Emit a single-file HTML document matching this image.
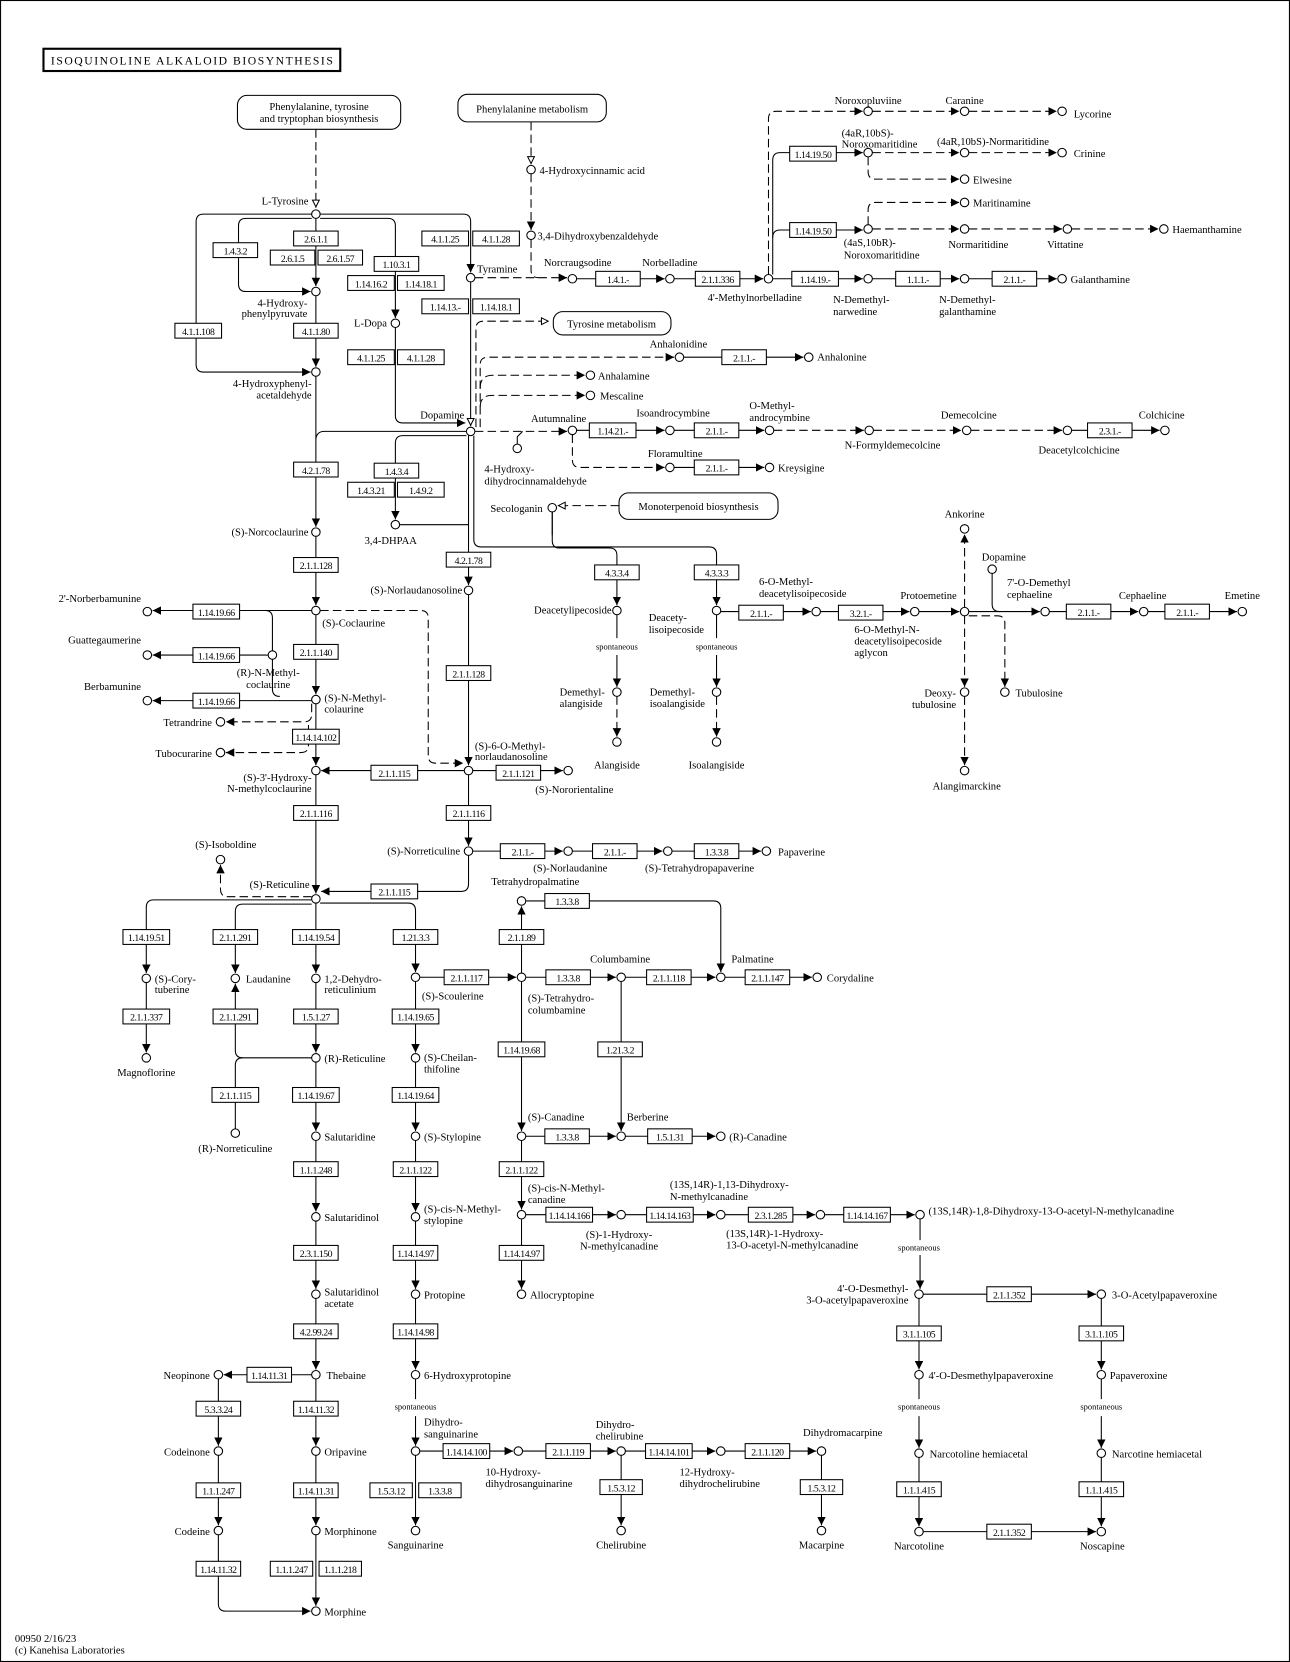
<!DOCTYPE html>
<html><head><meta charset="utf-8"><style>
html,body{margin:0;padding:0;background:#fff}
svg{display:block}
text{font-family:"Liberation Serif",serif;font-size:10px;fill:#000}
.e rect{fill:#fff;stroke:#000;stroke-width:1}
.e text{text-anchor:middle;font-size:9.2px;letter-spacing:-0.45px}
circle{fill:#fff;stroke:#000;stroke-width:1}
path{fill:none;stroke:#000;stroke-width:1}
.d{stroke-dasharray:8,4}
.m{text-anchor:middle}
.r{text-anchor:end}
.s{font-size:8px;text-anchor:middle}
</style></head><body>
<svg width="1290" height="1662" viewBox="0 0 1217 1568" xmlns="http://www.w3.org/2000/svg">
<defs>
<marker id="a" viewBox="0 0 10 10" refX="10" refY="5" markerWidth="8" markerHeight="8" orient="auto" markerUnits="userSpaceOnUse"><path d="M0,0 L10,5 L0,10 z" style="fill:#000;stroke:none"/></marker>
<marker id="o" viewBox="0 0 10 10" refX="10" refY="5" markerWidth="8" markerHeight="8" orient="auto" markerUnits="userSpaceOnUse"><path d="M1,1 L9,5 L1,9 z" style="fill:#fff;stroke:#000;stroke-width:1.2"/></marker>
</defs>
<rect x="0.5" y="0.5" width="1216" height="1567" fill="#fff" stroke="#000"/>
<rect x="41" y="46" width="280" height="21" fill="#fff" stroke="#000" stroke-width="2"/>
<text x="48" y="61" style="font-size:11px" textLength="266" lengthAdjust="spacing">ISOQUINOLINE  ALKALOID  BIOSYNTHESIS</text>

<!-- map boxes -->
<rect x="224" y="90" width="154" height="32" rx="9" fill="#fff" stroke="#000"/>
<text x="301" y="104" class="m">Phenylalanine, tyrosine</text><text x="301" y="115" class="m">and tryptophan biosynthesis</text>
<rect x="432" y="89" width="140" height="26" rx="9" fill="#fff" stroke="#000"/>
<text x="502" y="106" class="m">Phenylalanine metabolism</text>
<rect x="522" y="294" width="111" height="22" rx="9" fill="#fff" stroke="#000"/>
<text x="577" y="309" class="m">Tyrosine metabolism</text>
<rect x="584" y="465" width="150" height="25" rx="9" fill="#fff" stroke="#000"/>
<text x="659" y="481" class="m">Monoterpenoid biosynthesis</text>

<!-- edges -->
<g>
<path class="d" d="M298,122 V196" marker-end="url(#o)"/>
<path class="d" d="M501,115 V155" marker-end="url(#o)"/>
<path class="d" d="M501,164 V217" marker-end="url(#a)"/>
<path d="M298,206 V270" marker-end="url(#a)"/>
<path d="M294,206 H232 q-7,0 -7,7 V268 q0,7 7,7 H293" marker-end="url(#a)"/>
<path d="M302,206 H366 q7,0 7,7 V300" marker-end="url(#a)"/>
<path d="M294,202 H192 q-7,0 -7,7 V344 q0,7 7,7 H293" marker-end="url(#a)"/>
<path d="M302,202 H437 q7,0 7,7 V257" marker-end="url(#a)"/>
<path d="M298,279 V346" marker-end="url(#a)"/>
<path d="M298,355 V497" marker-end="url(#a)"/>
<path d="M440,407 H306 q-7,0 -8,7"/>
<path d="M373,309 V392 q0,7 7,7 H439" marker-end="url(#a)"/>
<path d="M444,266 V402" marker-end="url(#o)"/>
<path d="M442,411 V552" marker-end="url(#a)"/>
<path d="M447,411 V509 q0,7 7,7 H669 q7,0 7,7 V571" marker-end="url(#a)"/>
<path d="M521,483 V505"/>
<path d="M440,411 H380 q-7,0 -7,7 V490" marker-end="url(#a)"/>
<path d="M377,495 H442"/>
<path class="d" d="M449,403 V310 q0,-7 7,-7 H518" marker-end="url(#o)"/>
<path class="d" d="M453,403 V344 q0,-7 7,-7 H636" marker-end="url(#a)"/>
<path class="d" d="M453,366 q0,-12 12,-12 H552" marker-end="url(#a)"/>
<path class="d" d="M453,384 q0,-11 11,-11 H552" marker-end="url(#a)"/>
<path class="d" d="M448,407 H535" marker-end="url(#a)"/>
<path d="M488,419 V412 l5,-5"/>
<path d="M544,406 H627" marker-end="url(#a)"/>
<path d="M636,406 H721" marker-end="url(#a)"/>
<path class="d" d="M730,406 H815" marker-end="url(#a)"/>
<path class="d" d="M824,406 H907" marker-end="url(#a)"/>
<path class="d" d="M916,406 H1002" marker-end="url(#a)"/>
<path d="M1011,406 H1094" marker-end="url(#a)"/>
<path class="d" d="M540,410 V434 q0,7 7,7 H627" marker-end="url(#a)"/>
<path d="M636,441 H721" marker-end="url(#a)"/>
<path d="M645,337 H758" marker-end="url(#a)"/>
<path class="d" d="M448,262 H535" marker-end="url(#a)"/>
<path class="d" d="M501,226 V255 q0,7 7,7"/>
<path d="M544,263 H627" marker-end="url(#a)"/>
<path d="M636,263 H720" marker-end="url(#a)"/>
<path d="M729,263 H814" marker-end="url(#a)"/>
<path d="M823,263 H905" marker-end="url(#a)"/>
<path d="M914,263 H997" marker-end="url(#a)"/>
<path class="d" d="M725,259 V112 q0,-7 7,-7 H814" marker-end="url(#a)"/>
<path class="d" d="M823,105 H905" marker-end="url(#a)"/>
<path class="d" d="M914,105 H997" marker-end="url(#a)"/>
<path d="M729,259 V151 q0,-7 7,-7 H814" marker-end="url(#a)"/>
<path d="M729,224 q0,-7 7,-7 H814" marker-end="url(#a)"/>
<path class="d" d="M823,144 H905" marker-end="url(#a)"/>
<path class="d" d="M914,144 H997" marker-end="url(#a)"/>
<path class="d" d="M819,148 V162 q0,7 7,7 H905" marker-end="url(#a)"/>
<path class="d" d="M823,216 H905" marker-end="url(#a)"/>
<path class="d" d="M914,216 H1002" marker-end="url(#a)"/>
<path class="d" d="M1011,216 H1093" marker-end="url(#a)"/>
<path class="d" d="M819,212 V198 q0,-7 7,-7 H905" marker-end="url(#a)"/>
<path class="d" d="M584,477 H526" marker-end="url(#o)"/>
<path d="M521,483 V510 q0,7 7,7 H575 q7,0 7,7 V571" marker-end="url(#a)"/>
<path d="M582,580 V602 M582,618 V648" marker-end="url(#a)"/>
<path class="d" d="M582,657 V695" marker-end="url(#a)"/>
<path d="M676,580 V602 M676,618 V648" marker-end="url(#a)"/>
<path class="d" d="M676,657 V695" marker-end="url(#a)"/>
<path d="M680,577 H765" marker-end="url(#a)"/>
<path d="M774,577 H858" marker-end="url(#a)"/>
<path d="M867,577 H905" marker-end="url(#a)"/>
<path d="M914,577 H981" marker-end="url(#a)"/>
<path d="M936,541 V570 q0,7 7,7"/>
<path d="M990,577 H1074" marker-end="url(#a)"/>
<path d="M1083,577 H1167" marker-end="url(#a)"/>
<path class="d" d="M910,573 V504" marker-end="url(#a)"/>
<path class="d" d="M910,581 V648" marker-end="url(#a)"/>
<path class="d" d="M910,657 V722" marker-end="url(#a)"/>
<path class="d" d="M914,581 H941 q7,0 7,7 V648" marker-end="url(#a)"/>
<path d="M298,506 V571" marker-end="url(#a)"/>
<path class="d" d="M302,576 H397 q7,0 7,7 V713 q0,7 7,7 H437" marker-end="url(#a)"/>
<path d="M294,576 H144" marker-end="url(#a)"/>
<path d="M257,614 V583 q0,-7 -7,-7"/>
<path d="M253,618 H144" marker-end="url(#a)"/>
<path d="M298,580 V655" marker-end="url(#a)"/>
<path d="M294,661 H144" marker-end="url(#a)"/>
<path d="M257,622 V650 q0,7 7,7"/>
<path class="d" d="M294,664 V674 q0,7 -7,7 H213" marker-end="url(#a)"/>
<path class="d" d="M291,684 V703 q0,7 -7,7 H213" marker-end="url(#a)"/>
<path d="M298,664 V722" marker-end="url(#a)"/>
<path d="M438,727 H303" marker-end="url(#a)"/>
<path d="M442,561 V722" marker-end="url(#a)"/>
<path d="M446,727 H531" marker-end="url(#a)"/>
<path d="M442,731 V798" marker-end="url(#a)"/>
<path d="M446,803 H531" marker-end="url(#a)"/>
<path d="M540,803 H625" marker-end="url(#a)"/>
<path d="M634,803 H718" marker-end="url(#a)"/>
<path d="M442,807 V834 q0,7 -7,7 H303" marker-end="url(#a)"/>
<path d="M298,731 V843" marker-end="url(#a)"/>
<path class="d" d="M294,846 H215 q-7,0 -7,-7 V816" marker-end="url(#a)"/>
<path d="M294,849 H145 q-7,0 -7,7 V918" marker-end="url(#a)"/>
<path d="M294,853 H229 q-7,0 -7,7 V918" marker-end="url(#a)"/>
<path d="M294,998 H229 q-7,0 -7,-7 V928" marker-end="url(#a)"/>
<path d="M298,852 V918" marker-end="url(#a)"/>
<path d="M302,852 H385 q7,0 7,7 V917" marker-end="url(#a)"/>
<path d="M298,927 V993" marker-end="url(#a)"/>
<path d="M138,927 V993" marker-end="url(#a)"/>
<path d="M222,1065 V1005 q0,-7 7,-7"/>
<path d="M298,1002 V1067" marker-end="url(#a)"/>
<path d="M298,1076 V1143" marker-end="url(#a)"/>
<path d="M298,1152 V1216" marker-end="url(#a)"/>
<path d="M298,1225 V1292" marker-end="url(#a)"/>
<path d="M294,1297 H211" marker-end="url(#a)"/>
<path d="M206,1301 V1364" marker-end="url(#a)"/>
<path d="M206,1373 V1439" marker-end="url(#a)"/>
<path d="M206,1448 V1513 q0,7 7,7 H293" marker-end="url(#a)"/>
<path d="M298,1301 V1364" marker-end="url(#a)"/>
<path d="M298,1373 V1439" marker-end="url(#a)"/>
<path d="M298,1448 V1515" marker-end="url(#a)"/>
<path d="M392,926 V993" marker-end="url(#a)"/>
<path d="M392,1002 V1067" marker-end="url(#a)"/>
<path d="M392,1076 V1143" marker-end="url(#a)"/>
<path d="M392,1152 V1216" marker-end="url(#a)"/>
<path d="M392,1225 V1292" marker-end="url(#a)"/>
<path d="M392,1301 V1320 M392,1336 V1364" marker-end="url(#a)"/>
<path d="M392,1373 V1439" marker-end="url(#a)"/>
<path d="M396,922 H487" marker-end="url(#a)"/>
<path d="M492,926 V1067" marker-end="url(#a)"/>
<path d="M496,922 H581" marker-end="url(#a)"/>
<path d="M590,922 H675" marker-end="url(#a)"/>
<path d="M684,922 H766" marker-end="url(#a)"/>
<path d="M492,918 V855" marker-end="url(#a)"/>
<path d="M496,850 H673 q7,0 7,7 V917" marker-end="url(#a)"/>
<path d="M586,926 V1067" marker-end="url(#a)"/>
<path d="M496,1072 H581" marker-end="url(#a)"/>
<path d="M590,1072 H675" marker-end="url(#a)"/>
<path d="M492,1076 V1141" marker-end="url(#a)"/>
<path d="M492,1150 V1216" marker-end="url(#a)"/>
<path d="M496,1146 H581" marker-end="url(#a)"/>
<path d="M590,1146 H675" marker-end="url(#a)"/>
<path d="M684,1146 H769" marker-end="url(#a)"/>
<path d="M778,1146 H863" marker-end="url(#a)"/>
<path d="M868,1150 V1170 M868,1184 V1216" marker-end="url(#a)"/>
<path d="M871,1221 H1034" marker-end="url(#a)"/>
<path d="M867,1225 V1292" marker-end="url(#a)"/>
<path d="M867,1301 V1320 M867,1336 V1366" marker-end="url(#a)"/>
<path d="M867,1375 V1440" marker-end="url(#a)"/>
<path d="M1039,1225 V1292" marker-end="url(#a)"/>
<path d="M1039,1301 V1320 M1039,1336 V1366" marker-end="url(#a)"/>
<path d="M1039,1375 V1440" marker-end="url(#a)"/>
<path d="M871,1445 H1034" marker-end="url(#a)"/>
<path d="M396,1369 H484" marker-end="url(#a)"/>
<path d="M493,1369 H581" marker-end="url(#a)"/>
<path d="M590,1369 H675" marker-end="url(#a)"/>
<path d="M684,1369 H770" marker-end="url(#a)"/>
<path d="M586,1373 V1439" marker-end="url(#a)"/>
<path d="M775,1373 V1439" marker-end="url(#a)"/>
</g>

<!-- enzymes -->
<g class="e">
<g transform="translate(298,225)"><rect x="-21" y="-7" width="42" height="14"/><text y="4">2.6.1.1</text></g>
<g transform="translate(276,243)"><rect x="-21" y="-7" width="42" height="14"/><text y="4">2.6.1.5</text></g>
<g transform="translate(321,243)"><rect x="-21" y="-7" width="42" height="14"/><text y="4">2.6.1.57</text></g>
<g transform="translate(222,236)"><rect x="-21" y="-7" width="42" height="14"/><text y="4">1.4.3.2</text></g>
<g transform="translate(374,249)"><rect x="-21" y="-7" width="42" height="14"/><text y="4">1.10.3.1</text></g>
<g transform="translate(350,267)"><rect x="-22" y="-7" width="44" height="14"/><text y="4">1.14.16.2</text></g>
<g transform="translate(397,267)"><rect x="-22" y="-7" width="44" height="14"/><text y="4">1.14.18.1</text></g>
<g transform="translate(420,225)"><rect x="-22" y="-7" width="44" height="14"/><text y="4">4.1.1.25</text></g>
<g transform="translate(468,225)"><rect x="-22" y="-7" width="44" height="14"/><text y="4">4.1.1.28</text></g>
<g transform="translate(420,289)"><rect x="-22" y="-7" width="44" height="14"/><text y="4">1.14.13.-</text></g>
<g transform="translate(468,289)"><rect x="-22" y="-7" width="44" height="14"/><text y="4">1.14.18.1</text></g>
<g transform="translate(187,312)"><rect x="-22" y="-7" width="44" height="14"/><text y="4">4.1.1.108</text></g>
<g transform="translate(298,312)"><rect x="-21" y="-7" width="42" height="14"/><text y="4">4.1.1.80</text></g>
<g transform="translate(350,337)"><rect x="-22" y="-7" width="44" height="14"/><text y="4">4.1.1.25</text></g>
<g transform="translate(397,337)"><rect x="-22" y="-7" width="44" height="14"/><text y="4">4.1.1.28</text></g>
<g transform="translate(298,443)"><rect x="-21" y="-7" width="42" height="14"/><text y="4">4.2.1.78</text></g>
<g transform="translate(374,444)"><rect x="-21" y="-7" width="42" height="14"/><text y="4">1.4.3.4</text></g>
<g transform="translate(350,462)"><rect x="-22" y="-7" width="44" height="14"/><text y="4">1.4.3.21</text></g>
<g transform="translate(397,462)"><rect x="-22" y="-7" width="44" height="14"/><text y="4">1.4.9.2</text></g>
<g transform="translate(442,528)"><rect x="-21" y="-7" width="42" height="14"/><text y="4">4.2.1.78</text></g>
<g transform="translate(298,533)"><rect x="-21" y="-7" width="42" height="14"/><text y="4">2.1.1.128</text></g>
<g transform="translate(204,577)"><rect x="-22" y="-7" width="44" height="14"/><text y="4">1.14.19.66</text></g>
<g transform="translate(298,615)"><rect x="-21" y="-7" width="42" height="14"/><text y="4">2.1.1.140</text></g>
<g transform="translate(204,618)"><rect x="-22" y="-7" width="44" height="14"/><text y="4">1.14.19.66</text></g>
<g transform="translate(204,661)"><rect x="-22" y="-7" width="44" height="14"/><text y="4">1.14.19.66</text></g>
<g transform="translate(298,695)"><rect x="-22" y="-7" width="44" height="14"/><text y="4">1.14.14.102</text></g>
<g transform="translate(442,635)"><rect x="-21" y="-7" width="42" height="14"/><text y="4">2.1.1.128</text></g>
<g transform="translate(372,729)"><rect x="-22" y="-7" width="44" height="14"/><text y="4">2.1.1.115</text></g>
<g transform="translate(489,729)"><rect x="-21" y="-7" width="42" height="14"/><text y="4">2.1.1.121</text></g>
<g transform="translate(298,767)"><rect x="-21" y="-7" width="42" height="14"/><text y="4">2.1.1.116</text></g>
<g transform="translate(442,767)"><rect x="-21" y="-7" width="42" height="14"/><text y="4">2.1.1.116</text></g>
<g transform="translate(493,803)"><rect x="-21" y="-7" width="42" height="14"/><text y="4">2.1.1.-</text></g>
<g transform="translate(580,803)"><rect x="-21" y="-7" width="42" height="14"/><text y="4">2.1.1.-</text></g>
<g transform="translate(676,803)"><rect x="-21" y="-7" width="42" height="14"/><text y="4">1.3.3.8</text></g>
<g transform="translate(372,841)"><rect x="-22" y="-7" width="44" height="14"/><text y="4">2.1.1.115</text></g>
<g transform="translate(535,850)"><rect x="-21" y="-7" width="42" height="14"/><text y="4">1.3.3.8</text></g>
<g transform="translate(138,884)"><rect x="-22" y="-7" width="44" height="14"/><text y="4">1.14.19.51</text></g>
<g transform="translate(222,884)"><rect x="-21" y="-7" width="42" height="14"/><text y="4">2.1.1.291</text></g>
<g transform="translate(298,884)"><rect x="-22" y="-7" width="44" height="14"/><text y="4">1.14.19.54</text></g>
<g transform="translate(392,884)"><rect x="-21" y="-7" width="42" height="14"/><text y="4">1.21.3.3</text></g>
<g transform="translate(492,884)"><rect x="-21" y="-7" width="42" height="14"/><text y="4">2.1.1.89</text></g>
<g transform="translate(440,922)"><rect x="-21" y="-7" width="42" height="14"/><text y="4">2.1.1.117</text></g>
<g transform="translate(536,922)"><rect x="-21" y="-7" width="42" height="14"/><text y="4">1.3.3.8</text></g>
<g transform="translate(631,922)"><rect x="-21" y="-7" width="42" height="14"/><text y="4">2.1.1.118</text></g>
<g transform="translate(724,922)"><rect x="-21" y="-7" width="42" height="14"/><text y="4">2.1.1.147</text></g>
<g transform="translate(138,959)"><rect x="-22" y="-7" width="44" height="14"/><text y="4">2.1.1.337</text></g>
<g transform="translate(222,959)"><rect x="-21" y="-7" width="42" height="14"/><text y="4">2.1.1.291</text></g>
<g transform="translate(298,959)"><rect x="-21" y="-7" width="42" height="14"/><text y="4">1.5.1.27</text></g>
<g transform="translate(392,959)"><rect x="-22" y="-7" width="44" height="14"/><text y="4">1.14.19.65</text></g>
<g transform="translate(492,990)"><rect x="-22" y="-7" width="44" height="14"/><text y="4">1.14.19.68</text></g>
<g transform="translate(585,990)"><rect x="-21" y="-7" width="42" height="14"/><text y="4">1.21.3.2</text></g>
<g transform="translate(222,1033)"><rect x="-22" y="-7" width="44" height="14"/><text y="4">2.1.1.115</text></g>
<g transform="translate(298,1033)"><rect x="-22" y="-7" width="44" height="14"/><text y="4">1.14.19.67</text></g>
<g transform="translate(392,1033)"><rect x="-22" y="-7" width="44" height="14"/><text y="4">1.14.19.64</text></g>
<g transform="translate(535,1072)"><rect x="-21" y="-7" width="42" height="14"/><text y="4">1.3.3.8</text></g>
<g transform="translate(632,1072)"><rect x="-21" y="-7" width="42" height="14"/><text y="4">1.5.1.31</text></g>
<g transform="translate(298,1103)"><rect x="-21" y="-7" width="42" height="14"/><text y="4">1.1.1.248</text></g>
<g transform="translate(392,1103)"><rect x="-21" y="-7" width="42" height="14"/><text y="4">2.1.1.122</text></g>
<g transform="translate(492,1103)"><rect x="-21" y="-7" width="42" height="14"/><text y="4">2.1.1.122</text></g>
<g transform="translate(537,1146)"><rect x="-22" y="-7" width="44" height="14"/><text y="4">1.14.14.166</text></g>
<g transform="translate(632,1146)"><rect x="-22" y="-7" width="44" height="14"/><text y="4">1.14.14.163</text></g>
<g transform="translate(727,1146)"><rect x="-21" y="-7" width="42" height="14"/><text y="4">2.3.1.285</text></g>
<g transform="translate(818,1146)"><rect x="-22" y="-7" width="44" height="14"/><text y="4">1.14.14.167</text></g>
<g transform="translate(298,1182)"><rect x="-21" y="-7" width="42" height="14"/><text y="4">2.3.1.150</text></g>
<g transform="translate(392,1182)"><rect x="-21" y="-7" width="42" height="14"/><text y="4">1.14.14.97</text></g>
<g transform="translate(492,1182)"><rect x="-21" y="-7" width="42" height="14"/><text y="4">1.14.14.97</text></g>
<g transform="translate(952,1221)"><rect x="-21" y="-7" width="42" height="14"/><text y="4">2.1.1.352</text></g>
<g transform="translate(298,1256)"><rect x="-21" y="-7" width="42" height="14"/><text y="4">4.2.99.24</text></g>
<g transform="translate(392,1256)"><rect x="-21" y="-7" width="42" height="14"/><text y="4">1.14.14.98</text></g>
<g transform="translate(867,1258)"><rect x="-21" y="-7" width="42" height="14"/><text y="4">3.1.1.105</text></g>
<g transform="translate(1039,1258)"><rect x="-21" y="-7" width="42" height="14"/><text y="4">3.1.1.105</text></g>
<g transform="translate(254,1297)"><rect x="-21" y="-7" width="42" height="14"/><text y="4">1.14.11.31</text></g>
<g transform="translate(206,1329)"><rect x="-21" y="-7" width="42" height="14"/><text y="4">5.3.3.24</text></g>
<g transform="translate(298,1329)"><rect x="-21" y="-7" width="42" height="14"/><text y="4">1.14.11.32</text></g>
<g transform="translate(440,1369)"><rect x="-22" y="-7" width="44" height="14"/><text y="4">1.14.14.100</text></g>
<g transform="translate(536,1369)"><rect x="-21" y="-7" width="42" height="14"/><text y="4">2.1.1.119</text></g>
<g transform="translate(631,1369)"><rect x="-22" y="-7" width="44" height="14"/><text y="4">1.14.14.101</text></g>
<g transform="translate(724,1369)"><rect x="-21" y="-7" width="42" height="14"/><text y="4">2.1.1.120</text></g>
<g transform="translate(206,1406)"><rect x="-21" y="-7" width="42" height="14"/><text y="4">1.1.1.247</text></g>
<g transform="translate(298,1406)"><rect x="-21" y="-7" width="42" height="14"/><text y="4">1.14.11.31</text></g>
<g transform="translate(369,1406)"><rect x="-20" y="-7" width="40" height="14"/><text y="4">1.5.3.12</text></g>
<g transform="translate(415,1406)"><rect x="-20" y="-7" width="40" height="14"/><text y="4">1.3.3.8</text></g>
<g transform="translate(586,1403)"><rect x="-20" y="-7" width="40" height="14"/><text y="4">1.5.3.12</text></g>
<g transform="translate(775,1403)"><rect x="-20" y="-7" width="40" height="14"/><text y="4">1.5.3.12</text></g>
<g transform="translate(867,1405)"><rect x="-21" y="-7" width="42" height="14"/><text y="4">1.1.1.415</text></g>
<g transform="translate(1039,1405)"><rect x="-21" y="-7" width="42" height="14"/><text y="4">1.1.1.415</text></g>
<g transform="translate(952,1445)"><rect x="-21" y="-7" width="42" height="14"/><text y="4">2.1.1.352</text></g>
<g transform="translate(206,1480)"><rect x="-21" y="-7" width="42" height="14"/><text y="4">1.14.11.32</text></g>
<g transform="translate(275,1480)"><rect x="-20" y="-7" width="40" height="14"/><text y="4">1.1.1.247</text></g>
<g transform="translate(321,1480)"><rect x="-20" y="-7" width="40" height="14"/><text y="4">1.1.1.218</text></g>
<g transform="translate(583,263)"><rect x="-21" y="-7" width="42" height="14"/><text y="4">1.4.1.-</text></g>
<g transform="translate(677,263)"><rect x="-21" y="-7" width="42" height="14"/><text y="4">2.1.1.336</text></g>
<g transform="translate(769,263)"><rect x="-22" y="-7" width="44" height="14"/><text y="4">1.14.19.-</text></g>
<g transform="translate(866,263)"><rect x="-21" y="-7" width="42" height="14"/><text y="4">1.1.1.-</text></g>
<g transform="translate(957,263)"><rect x="-21" y="-7" width="42" height="14"/><text y="4">2.1.1.-</text></g>
<g transform="translate(767,145)"><rect x="-22" y="-7" width="44" height="14"/><text y="4">1.14.19.50</text></g>
<g transform="translate(767,217)"><rect x="-22" y="-7" width="44" height="14"/><text y="4">1.14.19.50</text></g>
<g transform="translate(702,337)"><rect x="-21" y="-7" width="42" height="14"/><text y="4">2.1.1.-</text></g>
<g transform="translate(578,406)"><rect x="-22" y="-7" width="44" height="14"/><text y="4">1.14.21.-</text></g>
<g transform="translate(676,406)"><rect x="-21" y="-7" width="42" height="14"/><text y="4">2.1.1.-</text></g>
<g transform="translate(1047,406)"><rect x="-21" y="-7" width="42" height="14"/><text y="4">2.3.1.-</text></g>
<g transform="translate(676,441)"><rect x="-21" y="-7" width="42" height="14"/><text y="4">2.1.1.-</text></g>
<g transform="translate(582,540)"><rect x="-21" y="-7" width="42" height="14"/><text y="4">4.3.3.4</text></g>
<g transform="translate(676,540)"><rect x="-21" y="-7" width="42" height="14"/><text y="4">4.3.3.3</text></g>
<g transform="translate(718,578)"><rect x="-21" y="-7" width="42" height="14"/><text y="4">2.1.1.-</text></g>
<g transform="translate(812,578)"><rect x="-21" y="-7" width="42" height="14"/><text y="4">3.2.1.-</text></g>
<g transform="translate(1027,577)"><rect x="-21" y="-7" width="42" height="14"/><text y="4">2.1.1.-</text></g>
<g transform="translate(1120,577)"><rect x="-21" y="-7" width="42" height="14"/><text y="4">2.1.1.-</text></g>
</g>

<!-- compounds -->
<g>
<circle cx="298" cy="202" r="4"/><circle cx="298" cy="275" r="4"/><circle cx="298" cy="351" r="4"/>
<circle cx="373" cy="305" r="4"/><circle cx="444" cy="262" r="4"/><circle cx="444" cy="407" r="4"/>
<circle cx="373" cy="495" r="4"/><circle cx="501" cy="160" r="4"/><circle cx="501" cy="222" r="4"/>
<circle cx="540" cy="263" r="4"/><circle cx="632" cy="263" r="4"/><circle cx="725" cy="263" r="4"/>
<circle cx="819" cy="105" r="4"/><circle cx="910" cy="105" r="4"/><circle cx="1002" cy="105" r="4"/>
<circle cx="819" cy="144" r="4"/><circle cx="910" cy="144" r="4"/><circle cx="1002" cy="144" r="4"/>
<circle cx="910" cy="169" r="4"/><circle cx="910" cy="191" r="4"/><circle cx="819" cy="216" r="4"/>
<circle cx="910" cy="216" r="4"/><circle cx="1007" cy="216" r="4"/><circle cx="1098" cy="216" r="4"/>
<circle cx="819" cy="263" r="4"/><circle cx="910" cy="263" r="4"/><circle cx="1002" cy="263" r="4"/>
<circle cx="641" cy="337" r="4"/><circle cx="763" cy="337" r="4"/><circle cx="557" cy="354" r="4"/>
<circle cx="557" cy="373" r="4"/><circle cx="540" cy="406" r="4"/><circle cx="488" cy="423" r="4"/>
<circle cx="632" cy="406" r="4"/><circle cx="726" cy="406" r="4"/><circle cx="820" cy="406" r="4"/>
<circle cx="912" cy="406" r="4"/><circle cx="1007" cy="406" r="4"/><circle cx="1099" cy="406" r="4"/>
<circle cx="632" cy="441" r="4"/><circle cx="726" cy="441" r="4"/><circle cx="521" cy="479" r="4"/>
<circle cx="582" cy="576" r="4"/><circle cx="582" cy="653" r="4"/><circle cx="582" cy="700" r="4"/>
<circle cx="676" cy="576" r="4"/><circle cx="676" cy="653" r="4"/><circle cx="676" cy="700" r="4"/>
<circle cx="770" cy="577" r="4"/><circle cx="863" cy="577" r="4"/><circle cx="910" cy="577" r="4"/>
<circle cx="910" cy="499" r="4"/><circle cx="936" cy="537" r="4"/><circle cx="986" cy="577" r="4"/>
<circle cx="1079" cy="577" r="4"/><circle cx="1172" cy="577" r="4"/><circle cx="948" cy="653" r="4"/>
<circle cx="910" cy="653" r="4"/><circle cx="910" cy="727" r="4"/>
<circle cx="298" cy="502" r="4"/><circle cx="442" cy="557" r="4"/><circle cx="139" cy="577" r="4"/>
<circle cx="139" cy="618" r="4"/><circle cx="257" cy="618" r="4"/><circle cx="298" cy="576" r="4"/>
<circle cx="139" cy="661" r="4"/><circle cx="298" cy="660" r="4"/><circle cx="208" cy="681" r="4"/>
<circle cx="208" cy="710" r="4"/><circle cx="298" cy="727" r="4"/><circle cx="442" cy="727" r="4"/>
<circle cx="536" cy="727" r="4"/><circle cx="442" cy="803" r="4"/><circle cx="536" cy="803" r="4"/>
<circle cx="630" cy="803" r="4"/><circle cx="723" cy="803" r="4"/><circle cx="208" cy="811" r="4"/>
<circle cx="298" cy="848" r="4"/><circle cx="492" cy="850" r="4"/><circle cx="138" cy="923" r="4"/>
<circle cx="222" cy="923" r="4"/><circle cx="298" cy="923" r="4"/><circle cx="392" cy="922" r="4"/>
<circle cx="492" cy="922" r="4"/><circle cx="586" cy="922" r="4"/><circle cx="680" cy="922" r="4"/>
<circle cx="771" cy="922" r="4"/><circle cx="138" cy="998" r="4"/><circle cx="298" cy="998" r="4"/>
<circle cx="392" cy="998" r="4"/><circle cx="222" cy="1069" r="4"/><circle cx="298" cy="1072" r="4"/>
<circle cx="392" cy="1072" r="4"/><circle cx="492" cy="1072" r="4"/><circle cx="586" cy="1072" r="4"/>
<circle cx="680" cy="1072" r="4"/><circle cx="298" cy="1148" r="4"/><circle cx="392" cy="1148" r="4"/>
<circle cx="492" cy="1146" r="4"/><circle cx="586" cy="1146" r="4"/><circle cx="680" cy="1146" r="4"/>
<circle cx="774" cy="1146" r="4"/><circle cx="868" cy="1146" r="4"/><circle cx="298" cy="1221" r="4"/>
<circle cx="392" cy="1221" r="4"/><circle cx="492" cy="1221" r="4"/><circle cx="867" cy="1221" r="4"/>
<circle cx="1039" cy="1221" r="4"/><circle cx="298" cy="1297" r="4"/><circle cx="206" cy="1297" r="4"/>
<circle cx="392" cy="1297" r="4"/><circle cx="867" cy="1297" r="4"/><circle cx="1039" cy="1297" r="4"/>
<circle cx="206" cy="1369" r="4"/><circle cx="298" cy="1369" r="4"/><circle cx="392" cy="1369" r="4"/>
<circle cx="489" cy="1369" r="4"/><circle cx="586" cy="1369" r="4"/><circle cx="680" cy="1369" r="4"/>
<circle cx="775" cy="1369" r="4"/><circle cx="867" cy="1371" r="4"/><circle cx="1039" cy="1371" r="4"/>
<circle cx="206" cy="1444" r="4"/><circle cx="298" cy="1444" r="4"/><circle cx="392" cy="1444" r="4"/>
<circle cx="586" cy="1444" r="4"/><circle cx="775" cy="1444" r="4"/><circle cx="867" cy="1445" r="4"/>
<circle cx="1039" cy="1445" r="4"/><circle cx="298" cy="1520" r="4"/>
</g>

<!-- labels -->
<g>
<text x="291" y="193" class="r">L-Tyrosine</text>
<text x="290" y="289" class="r">4-Hydroxy-</text><text x="290" y="299" class="r">phenylpyruvate</text>
<text x="294" y="365" class="r">4-Hydroxyphenyl-</text><text x="294" y="376" class="r">acetaldehyde</text>
<text x="365" y="308" class="r">L-Dopa</text>
<text x="450" y="257">Tyramine</text>
<text x="438" y="395" class="r">Dopamine</text>
<text x="344" y="513">3,4-DHPAA</text>
<text x="509" y="164">4-Hydroxycinnamic  acid</text>
<text x="507" y="226">3,4-Dihydroxybenzaldehyde</text>
<text x="545" y="251" class="m">Norcraugsodine</text>
<text x="632" y="251" class="m">Norbelladine</text>
<text x="712" y="284" class="m">4'-Methylnorbelladine</text>
<text x="819" y="98" class="m">Noroxopluviine</text>
<text x="910" y="98" class="m">Caranine</text>
<text x="1013" y="111">Lycorine</text>
<text x="794" y="129">(4aR,10bS)-</text><text x="794" y="139">Noroxomaritidine</text>
<text x="884" y="137">(4aR,10bS)-Normaritidine</text>
<text x="1013" y="148">Crinine</text>
<text x="918" y="173">Elwesine</text>
<text x="918" y="195">Maritinamine</text>
<text x="796" y="232">(4aS,10bR)-</text><text x="796" y="244">Noroxomaritidine</text>
<text x="923" y="234" class="m">Normaritidine</text>
<text x="1005" y="234" class="m">Vittatine</text>
<text x="1106" y="220">Haemanthamine</text>
<text x="786" y="286">N-Demethyl-</text><text x="786" y="297">narwedine</text>
<text x="886" y="286">N-Demethyl-</text><text x="886" y="297">galanthamine</text>
<text x="1010" y="267">Galanthamine</text>
<text x="640" y="328" class="m">Anhalonidine</text>
<text x="771" y="340">Anhalonine</text>
<text x="564" y="358">Anhalamine</text>
<text x="566" y="377">Mescaline</text>
<text x="527" y="398" class="m">Autumnaline</text>
<text x="457" y="446">4-Hydroxy-</text><text x="457" y="457">dihydrocinnamaldehyde</text>
<text x="635" y="393" class="m">Isoandrocymbine</text>
<text x="707" y="386">O-Methyl-</text><text x="707" y="397">androcymbine</text>
<text x="842" y="423" class="m">N-Formyldemecolcine</text>
<text x="914" y="395" class="m">Demecolcine</text>
<text x="1018" y="428" class="m">Deacetylcolchicine</text>
<text x="1096" y="395" class="m">Colchicine</text>
<text x="637" y="431" class="m">Floramultine</text>
<text x="734" y="445">Kreysigine</text>
<text x="512" y="483" class="r">Secologanin</text>
<text x="577" y="579" class="r">Deacetylipecoside</text>
<text x="612" y="586">Deacety-</text><text x="612" y="597">lisoipecoside</text>
<text x="582" y="613" class="s">spontaneous</text>
<text x="676" y="613" class="s">spontaneous</text>
<text x="528" y="656">Demethyl-</text><text x="528" y="667">alangiside</text>
<text x="582" y="725" class="m">Alangiside</text>
<text x="613" y="656">Demethyl-</text><text x="613" y="667">isoalangiside</text>
<text x="676" y="725" class="m">Isoalangiside</text>
<text x="716" y="552">6-O-Methyl-</text><text x="716" y="563">deacetylisoipecoside</text>
<text x="876" y="565" class="m">Protoemetine</text>
<text x="806" y="597">6-O-Methyl-N-</text><text x="806" y="608">deacetylisoipecoside</text><text x="806" y="619">aglycon</text>
<text x="910" y="488" class="m">Ankorine</text>
<text x="947" y="529" class="m">Dopamine</text>
<text x="950" y="553">7'-O-Demethyl</text><text x="950" y="564">cephaeline</text>
<text x="1078" y="565" class="m">Cephaeline</text>
<text x="1172" y="565" class="m">Emetine</text>
<text x="958" y="657">Tubulosine</text>
<text x="902" y="657" class="r">Deoxy-</text><text x="902" y="668" class="r">tubulosine</text>
<text x="912" y="745" class="m">Alangimarckine</text>
<text x="291" y="505" class="r">(S)-Norcoclaurine</text>
<text x="436" y="560" class="r">(S)-Norlaudanosoline</text>
<text x="133" y="568" class="r">2'-Norberbamunine</text>
<text x="133" y="607" class="r">Guattegaumerine</text>
<text x="133" y="651" class="r">Berbamunine</text>
<text x="304" y="591">(S)-Coclaurine</text>
<text x="253" y="638" class="m">(R)-N-Methyl-</text><text x="253" y="649" class="m">coclaurine</text>
<text x="306" y="662">(S)-N-Methyl-</text><text x="306" y="672">colaurine</text>
<text x="200" y="685" class="r">Tetrandrine</text>
<text x="200" y="714" class="r">Tubocurarine</text>
<text x="294" y="737" class="r">(S)-3'-Hydroxy-</text><text x="294" y="747" class="r">N-methylcoclaurine</text>
<text x="448" y="707">(S)-6-O-Methyl-</text><text x="448" y="717">norlaudanosoline</text>
<text x="505" y="748">(S)-Nororientaline</text>
<text x="434" y="806" class="r">(S)-Norreticuline</text>
<text x="538" y="822" class="m">(S)-Norlaudanine</text>
<text x="660" y="822" class="m">(S)-Tetrahydropapaverine</text>
<text x="734" y="807">Papaverine</text>
<text x="213" y="800" class="m">(S)-Isoboldine</text>
<text x="292" y="838" class="r">(S)-Reticuline</text>
<text x="505" y="835" class="m">Tetrahydropalmatine</text>
<text x="146" y="927">(S)-Cory-</text><text x="146" y="937">tuberine</text>
<text x="232" y="927">Laudanine</text>
<text x="306" y="927">1,2-Dehydro-</text><text x="306" y="937">reticulinium</text>
<text x="398" y="943">(S)-Scoulerine</text>
<text x="498" y="945">(S)-Tetrahydro-</text><text x="498" y="956">columbamine</text>
<text x="585" y="908" class="m">Columbamine</text>
<text x="710" y="908" class="m">Palmatine</text>
<text x="780" y="926">Corydaline</text>
<text x="138" y="1015" class="m">Magnoflorine</text>
<text x="306" y="1002">(R)-Reticuline</text>
<text x="400" y="1001">(S)-Cheilan-</text><text x="400" y="1012">thifoline</text>
<text x="222" y="1087" class="m">(R)-Norreticuline</text>
<text x="306" y="1076">Salutaridine</text>
<text x="400" y="1076">(S)-Stylopine</text>
<text x="498" y="1057">(S)-Canadine</text>
<text x="611" y="1057" class="m">Berberine</text>
<text x="688" y="1076">(R)-Canadine</text>
<text x="306" y="1152">Salutaridinol</text>
<text x="400" y="1144">(S)-cis-N-Methyl-</text><text x="400" y="1155">stylopine</text>
<text x="498" y="1124">(S)-cis-N-Methyl-</text><text x="498" y="1135">canadine</text>
<text x="584" y="1168" class="m">(S)-1-Hydroxy-</text><text x="584" y="1179" class="m">N-methylcanadine</text>
<text x="632" y="1121">(13S,14R)-1,13-Dihydroxy-</text><text x="632" y="1132">N-methylcanadine</text>
<text x="685" y="1167">(13S,14R)-1-Hydroxy-</text><text x="685" y="1178">13-O-acetyl-N-methylcanadine</text>
<text x="876" y="1146">(13S,14R)-1,8-Dihydroxy-13-O-acetyl-N-methylcanadine</text>
<text x="867" y="1180" class="s">spontaneous</text>
<text x="306" y="1222">Salutaridinol</text><text x="306" y="1233">acetate</text>
<text x="400" y="1225">Protopine</text>
<text x="500" y="1225">Allocryptopine</text>
<text x="857" y="1219" class="r">4'-O-Desmethyl-</text><text x="857" y="1230" class="r">3-O-acetylpapaveroxine</text>
<text x="1049" y="1225">3-O-Acetylpapaveroxine</text>
<text x="198" y="1301" class="r">Neopinone</text>
<text x="308" y="1301">Thebaine</text>
<text x="400" y="1301">6-Hydroxyprotopine</text>
<text x="876" y="1301">4'-O-Desmethylpapaveroxine</text>
<text x="1047" y="1301">Papaveroxine</text>
<text x="392" y="1330" class="s">spontaneous</text>
<text x="867" y="1330" class="s">spontaneous</text>
<text x="1039" y="1330" class="s">spontaneous</text>
<text x="198" y="1373" class="r">Codeinone</text>
<text x="306" y="1373">Oripavine</text>
<text x="400" y="1345">Dihydro-</text><text x="400" y="1356">sanguinarine</text>
<text x="458" y="1392">10-Hydroxy-</text><text x="458" y="1403">dihydrosanguinarine</text>
<text x="562" y="1347">Dihydro-</text><text x="562" y="1358">chelirubine</text>
<text x="641" y="1392">12-Hydroxy-</text><text x="641" y="1403">dihydrochelirubine</text>
<text x="795" y="1355" class="m">Dihydromacarpine</text>
<text x="877" y="1375">Narcotoline hemiacetal</text>
<text x="1049" y="1375">Narcotine hemiacetal</text>
<text x="198" y="1448" class="r">Codeine</text>
<text x="306" y="1448">Morphinone</text>
<text x="392" y="1461" class="m">Sanguinarine</text>
<text x="586" y="1461" class="m">Chelirubine</text>
<text x="775" y="1461" class="m">Macarpine</text>
<text x="867" y="1462" class="m">Narcotoline</text>
<text x="1040" y="1462" class="m">Noscapine</text>
<text x="306" y="1524">Morphine</text>
<text x="14" y="1549">00950 2/16/23</text>
<text x="14" y="1560">(c) Kanehisa Laboratories</text>
</g>
</svg>
</body></html>
